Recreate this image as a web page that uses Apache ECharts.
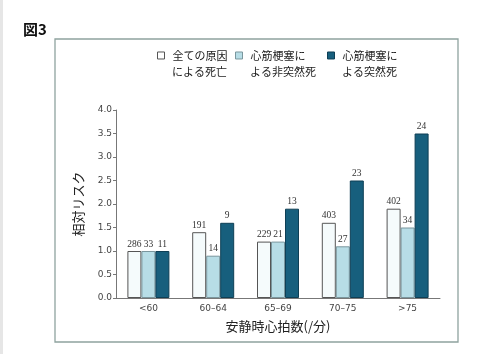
<!DOCTYPE html>
<html>
<head>
<meta charset="utf-8">
<script src="https://cdn.jsdelivr.net/npm/echarts@6/dist/echarts.min.js"></script>
<style>
  html, body { margin: 0; padding: 0; background: #fff; }
  #chart { width: 480px; height: 354px; }
</style>
</head>
<body>
<div id="chart"></div>
<script>
// カテゴリ(安静時心拍数)
var categories = ['<60', '60–64', '65–69', '70–75', '>75']
// 相対リスク
var allCause = [1.0, 1.4, 1.2, 1.6, 1.9]
var nonSudden = [1.0, 0.9, 1.2, 1.1, 1.5]
var sudden = [1.0, 1.6, 1.9, 2.5, 3.5]
// 棒の上の数字(件数)
var allCauseN = [286, 191, 229, 403, 402]
var nonSuddenN = [33, 14, 21, 27, 34]
var suddenN = [11, 9, 13, 23, 24]
var seriesNames = ['全ての原因\nによる死亡', '心筋梗塞に\nよる非突然死', '心筋梗塞に\nよる突然死']
var seriesColors = ['#f5fbfc', '#b7dde6', '#175f7d']
var borderColors = ['#555', '#7a969d', '#0e3f55']

var labelFont = 'Liberation Serif, DejaVu Serif, serif'
var cjkFont = 'Noto Sans CJK JP, sans-serif'

// 凡例の位置(x)
var legendLeft = [157, 235, 327]

function makeSeries (i, data, counts) {
  return {
    name: seriesNames[i],
    type: 'bar',
    data: data,
    barWidth: 14,
    barGap: '0%',
    itemStyle: { color: seriesColors[i], borderColor: borderColors[i], borderWidth: 1 },
    label: {
      show: true,
      position: 'top',
      distance: 2,
      fontFamily: labelFont,
      fontSize: 9.5,
      color: '#333',
      formatter: function (p) { return counts[p.dataIndex] }
    }
  }
}

// 凡例は1行目のみ、2行目は graphic で
var legends = seriesNames.map(function (name, i) {
  return {
    left: legendLeft[i],
    top: 50,
    padding: 0,
    itemWidth: 7,
    itemHeight: 7,
    icon: 'rect',
    formatter: function (n) { return n.split('\n')[0] },
    textStyle: { fontSize: 11, color: '#222', padding: [0, 0, 0, 3] },
    data: [{ name: name, itemStyle: { color: i === 0 ? '#fff' : seriesColors[i], borderColor: borderColors[i], borderWidth: 1 } }]
  }
})
var secondLines = seriesNames.map(function (name, i) {
  return {
    type: 'text',
    x: legendLeft[i] + 15,
    y: 71.5,
    style: { text: name.split('\n')[1], font: '11px ' + cjkFont, fill: '#222', verticalAlign: 'middle' }
  }
})

var chart = echarts.init(document.getElementById('chart'))
chart.setOption({
  animation: false,
  backgroundColor: '#fff',
  textStyle: { fontFamily: cjkFont },
  graphic: [
    {
      type: 'rect',
      shape: { x: 0, y: 0, width: 3, height: 354 },
      style: { fill: '#e6e6e6' }
    },
    {
      type: 'rect',
      shape: { x: 55, y: 39, width: 403, height: 303 },
      style: { fill: 'none', stroke: '#8fa39f', lineWidth: 1.3 }
    },
    {
      type: 'text',
      x: 23, y: 22,
      style: { text: '図3', font: 'bold 15px ' + cjkFont, fill: '#111' }
    }
  ].concat(secondLines),
  legend: legends,
  grid: { left: 116, right: 40, top: 110, bottom: 56 },
  xAxis: {
    type: 'category',
    data: categories,
    name: '安静時心拍数(/分)',
    nameLocation: 'middle',
    nameGap: 22,
    nameTextStyle: { fontSize: 13, color: '#222' },
    axisLine: { lineStyle: { color: '#777' } },
    axisTick: { show: false },
    axisLabel: { fontSize: 9, color: '#444', margin: 6, fontFamily: 'DejaVu Sans, sans-serif' }
  },
  yAxis: {
    type: 'value',
    min: 0,
    max: 4,
    interval: 0.5,
    name: '相対リスク',
    nameLocation: 'middle',
    nameGap: 31,
    nameRotate: 90,
    nameTextStyle: { fontSize: 13, color: '#222' },
    axisLine: { show: true, lineStyle: { color: '#777' } },
    axisTick: { show: true, length: 3, lineStyle: { color: '#777' } },
    splitLine: { show: false },
    axisLabel: {
      fontSize: 9, color: '#444', margin: 4, fontFamily: 'DejaVu Sans, sans-serif',
      formatter: function (v) { return v.toFixed(1) }
    }
  },
  series: [
    makeSeries(0, allCause, allCauseN),
    makeSeries(1, nonSudden, nonSuddenN),
    makeSeries(2, sudden, suddenN)
  ]
})
</script>
</body>
</html>
